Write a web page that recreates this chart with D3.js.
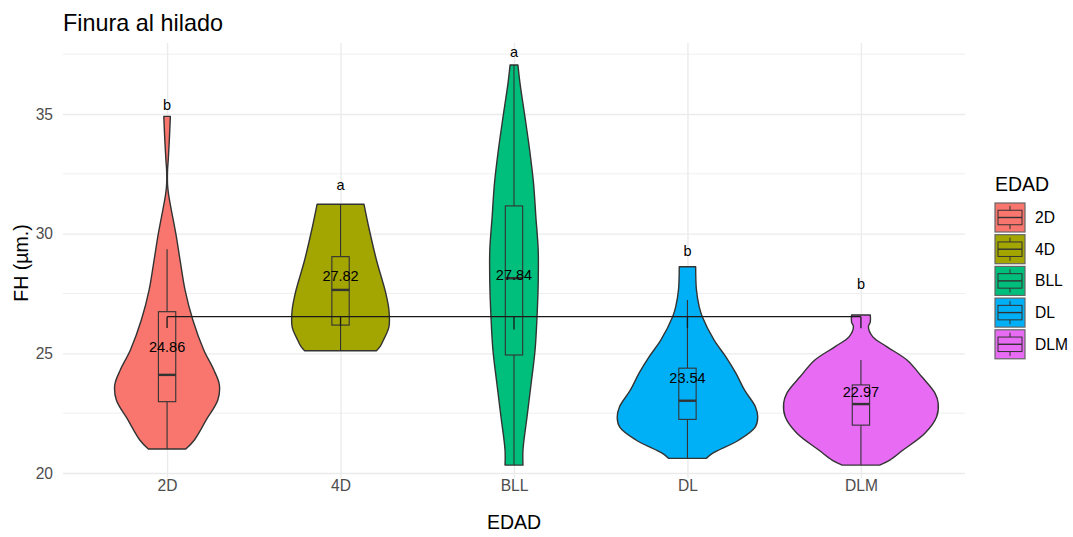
<!DOCTYPE html>
<html>
<head>
<meta charset="utf-8">
<script src="https://cdn.jsdelivr.net/npm/d3@7"></script>
<style>
  body { margin: 0; background: #fff; }
  text { font-family: "Liberation Sans", Arial, sans-serif; }
</style>
</head>
<body>
<div class="C"></div>
<script>
// FH por EDAD - violin + boxplot
var categories = ['2D', '4D', 'BLL', 'DL', 'DLM'];
var means = [24.86, 27.82, 27.84, 23.54, 22.97];
var letters = ['b', 'a', 'a', 'b', 'b'];
var letterY = [35.38, 32.03, 37.59, 29.28, 27.90];

var whiskerLow = [21.00, 25.11, 20.33, 20.61, 20.33];
var boxQ1 = [22.98, 26.18, 24.93, 22.24, 22.00];
var boxMed = [24.10, 27.65, 28.14, 23.02, 22.88];
var boxQ3 = [26.74, 29.04, 31.16, 24.38, 23.68];
var whiskerHigh = [29.35, 31.23, 37.05, 27.23, 24.72];

// linea horizontal y marcas
var refLine = 26.53;
var refTick = [26.06, 26.15, 26.00, 26.06, 26.05];

// perfiles de densidad: [FH, ancho relativo]
var violin2D = [[34.90, 0.042], [33.84, 0.028], [33.08, 0.015], [32.66, 0.006], [32.04, 0.006], [31.62, 0.02],
    [31.07, 0.05], [29.95, 0.115], [28.82, 0.17], [27.65, 0.23], [26.39, 0.33], [25.14, 0.47], [24.30, 0.60],
    [23.68, 0.67], [23.05, 0.65], [22.21, 0.50], [21.38, 0.35], [21.00, 0.24]];
var violin4D = [[31.23, 0.30], [30.29, 0.36], [28.90, 0.46], [27.51, 0.58], [26.81, 0.62], [26.11, 0.62],
    [25.56, 0.55], [25.30, 0.51], [25.11, 0.46]];
var violinBLL = [[37.05, 0.05], [36.28, 0.077], [34.89, 0.14], [33.50, 0.20], [32.11, 0.25], [30.71, 0.28],
    [29.32, 0.31], [27.93, 0.31], [26.53, 0.295], [25.14, 0.27], [23.75, 0.22], [22.35, 0.167], [20.96, 0.115],
    [20.33, 0.115]];
var violinDL = [[28.62, 0.105], [27.65, 0.115], [26.95, 0.15], [26.53, 0.19], [25.56, 0.34], [24.86, 0.49],
    [24.17, 0.62], [23.47, 0.73], [22.77, 0.87], [22.35, 0.90], [21.93, 0.87], [21.38, 0.66], [20.82, 0.32],
    [20.61, 0.24]];
var violinDLM = [[26.60, 0.12], [26.30, 0.12], [26.11, 0.096], [25.70, 0.15], [25.28, 0.33], [24.72, 0.59],
    [24.02, 0.78], [23.33, 0.95], [22.91, 0.99], [22.35, 0.97], [21.66, 0.82], [20.96, 0.54], [20.54, 0.37],
    [20.33, 0.24]];
var violins = [violin2D, violin4D, violinBLL, violinDL, violinDLM];

var yTicks = [20, 25, 30, 35];
var yMinor = [22.5, 27.5, 32.5, 37.5];
var palette = ['#F8766D', '#A3A500', '#00BF7D', '#00B0F6', '#E76BF3'];

var W = 1073, H = 537;
var pL = 63, pR = 965, pT = 43, pB = 478;

var svg = d3.select('.C').append('svg').attr('width', W).attr('height', H);

var x = d3.scalePoint().domain(categories).range([pL, pR]).padding(0.6);
var y = d3.scaleLinear().domain([20, 35]).range([473, 114]);
var half = x.step() * 0.45;
var boxHalf = x.step() * 0.05;

// grid
svg.append('g').selectAll('line').data(yMinor).enter().append('line')
    .attr('x1', pL).attr('x2', pR)
    .attr('y1', function (d) { return y(d); }).attr('y2', function (d) { return y(d); })
    .style('stroke', '#EBEBEB').style('stroke-width', 0.8);

var gy = svg.append('g').attr('transform', 'translate(' + pL + ',0)')
    .call(d3.axisLeft(y).tickValues(yTicks).tickSize(-(pR - pL)).tickPadding(10));
gy.select('.domain').remove();
gy.selectAll('line').style('stroke', '#EBEBEB').style('stroke-width', 1.4);
gy.selectAll('text').style('font-size', '15.6px').style('fill', '#4D4D4D');

var gx = svg.append('g').attr('transform', 'translate(0,' + pB + ')')
    .call(d3.axisBottom(x).tickSize(-(pB - pT)).tickPadding(2));
gx.select('.domain').remove();
gx.selectAll('line').style('stroke', '#EBEBEB').style('stroke-width', 1.4);
gx.selectAll('text').style('font-size', '15.6px').style('fill', '#4D4D4D');

// violins
var area = d3.area()
    .curve(d3.curveCatmullRom.alpha(0.5))
    .y(function (d) { return y(d[0]); })
    .x0(function (d) { return -d[1] * half; })
    .x1(function (d) { return d[1] * half; });

var groups = svg.append('g').selectAll('.grp').data(categories).enter().append('g')
    .attr('class', 'grp')
    .attr('transform', function (d) { return 'translate(' + x(d) + ',0)'; });

groups.append('path')
    .attr('d', function (d, i) { return area(violins[i]) + 'Z'; })
    .style('fill', function (d, i) { return palette[i]; })
    .style('stroke', '#333333').style('stroke-width', 1.4).style('stroke-linejoin', 'round');

// boxplots
groups.append('line')
    .attr('x1', 0).attr('x2', 0)
    .attr('y1', function (d, i) { return y(boxQ3[i]); })
    .attr('y2', function (d, i) { return y(whiskerHigh[i]); })
    .style('stroke', '#333333').style('stroke-width', 1.1);
groups.append('line')
    .attr('x1', 0).attr('x2', 0)
    .attr('y1', function (d, i) { return y(boxQ1[i]); })
    .attr('y2', function (d, i) { return y(whiskerLow[i]); })
    .style('stroke', '#333333').style('stroke-width', 1.1);
groups.append('rect')
    .attr('x', -boxHalf).attr('width', boxHalf * 2)
    .attr('y', function (d, i) { return y(boxQ3[i]); })
    .attr('height', function (d, i) { return y(boxQ1[i]) - y(boxQ3[i]); })
    .style('fill', function (d, i) { return palette[i]; })
    .style('stroke', '#333333').style('stroke-width', 1.1);
groups.append('line')
    .attr('x1', -boxHalf).attr('x2', boxHalf)
    .attr('y1', function (d, i) { return y(boxMed[i]); })
    .attr('y2', function (d, i) { return y(boxMed[i]); })
    .style('stroke', '#333333').style('stroke-width', 2.4);

// linea de referencia
svg.append('path')
    .datum(categories)
    .attr('d', d3.line().x(function (d) { return x(d); }).y(function () { return y(refLine); }))
    .style('fill', 'none').style('stroke', '#1a1a1a').style('stroke-width', 1.3);
groups.append('line')
    .attr('x1', 0).attr('x2', 0)
    .attr('y1', y(refLine))
    .attr('y2', function (d, i) { return y(refTick[i]); })
    .style('stroke', '#1a1a1a').style('stroke-width', 1.3);

// etiquetas
groups.append('text')
    .attr('y', function (d, i) { return y(means[i]) - 10; })
    .attr('dy', '0.35em').attr('text-anchor', 'middle')
    .style('font-size', '14.5px').style('fill', '#000')
    .text(function (d, i) { return means[i].toFixed(2); });
groups.append('text')
    .attr('y', function (d, i) { return y(letterY[i]); })
    .attr('dy', '0.35em').attr('text-anchor', 'middle')
    .style('font-size', '14.5px').style('fill', '#000')
    .text(function (d, i) { return letters[i]; });

// titulos
svg.append('text').text('Finura al hilado').attr('x', pL).attr('y', 31)
    .style('font-size', '23.4px').style('fill', '#000');
svg.append('text').text('EDAD').attr('x', (pL + pR) / 2).attr('y', 529)
    .attr('text-anchor', 'middle').style('font-size', '19.5px').style('fill', '#000');
svg.append('text').text('FH (µm.)')
    .attr('transform', 'translate(27.5,263) rotate(-90)')
    .attr('text-anchor', 'middle').style('font-size', '19.5px').style('fill', '#000');

// leyenda
var lg = svg.append('g').attr('transform', 'translate(995,0)');
lg.append('text').text('EDAD').attr('x', 0).attr('y', 191)
    .style('font-size', '19.5px').style('fill', '#000');
var keyW = 30, keyH = 29, keyStep = 31.7, key0 = 203;
var keys = lg.selectAll('.key').data(categories).enter().append('g')
    .attr('class', 'key')
    .attr('transform', function (d, i) { return 'translate(0,' + (key0 + i * keyStep) + ')'; });
keys.append('rect').attr('width', keyW).attr('height', keyH)
    .style('fill', function (d, i) { return palette[i]; })
    .style('stroke', '#666').style('stroke-width', 1.2);
keys.append('line').attr('x1', keyW / 2).attr('x2', keyW / 2).attr('y1', keyH * 0.1).attr('y2', keyH * 0.9)
    .style('stroke', '#333').style('stroke-width', 1);
keys.append('rect').attr('x', keyW * 0.1).attr('width', keyW * 0.8)
    .attr('y', keyH * 0.25).attr('height', keyH * 0.5)
    .style('fill', function (d, i) { return palette[i]; })
    .style('stroke', '#333').style('stroke-width', 1);
keys.append('line').attr('x1', keyW * 0.1).attr('x2', keyW * 0.9).attr('y1', keyH * 0.5).attr('y2', keyH * 0.5)
    .style('stroke', '#333').style('stroke-width', 1.4);
keys.append('text').text(function (d) { return d; })
    .attr('x', 40).attr('y', keyH / 2).attr('dy', '0.35em')
    .style('font-size', '15.6px').style('fill', '#000');
</script>
</body>
</html>
